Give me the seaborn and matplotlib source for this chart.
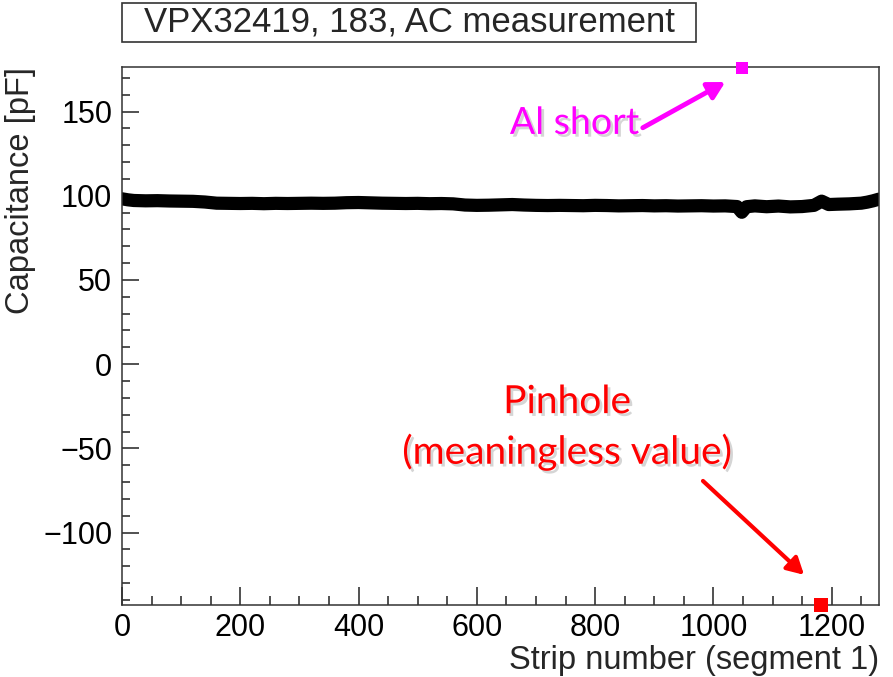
import matplotlib

matplotlib.use("Agg")
import matplotlib.patheffects as pe
import matplotlib.pyplot as plt
import pandas as pd
import seaborn as sns
from matplotlib.patches import Rectangle
from matplotlib.ticker import MultipleLocator

# Strip scan (coarse sampling of the dense band)
strip = [0, 10, 20, 40, 60, 80, 100, 120, 140, 160, 180, 200, 220, 240, 260,
         280, 300, 320, 340, 360, 380, 400, 420, 440, 460, 480, 500, 520, 540,
         560, 580, 600, 620, 640, 660, 680, 700, 720, 740, 760, 780, 800, 820,
         840, 860, 880, 900, 920, 940, 960, 980, 1000, 1020, 1040, 1048, 1056,
         1070, 1090, 1110, 1130, 1150, 1170, 1183, 1195, 1210, 1230, 1250,
         1260, 1270, 1280]
capacitance = [98.2, 97.6, 97.2, 97.0, 97.1, 96.9, 96.8, 96.7, 96.3, 95.6,
               95.5, 95.4, 95.5, 95.3, 95.5, 95.4, 95.5, 95.6, 95.5, 95.6,
               95.9, 96.0, 95.8, 95.6, 95.5, 95.4, 95.5, 95.3, 95.4, 95.2,
               94.5, 94.3, 94.4, 94.6, 94.8, 94.5, 94.3, 94.2, 94.3, 94.2,
               94.1, 94.3, 94.2, 94.0, 94.1, 94.2, 94.0, 94.1, 93.9, 94.0,
               94.1, 93.9, 94.0, 93.6, 90.2, 93.5, 94.0, 93.5, 93.9, 93.4,
               93.6, 94.3, 96.8, 94.8, 95.0, 95.2, 95.6, 96.2, 97.0, 98.0]

al_short_strip = [1048]
al_short_cap = [176.0]
pinhole_strip = [1182]
pinhole_cap = [-143.0]

x_major = [0, 200, 400, 600, 800, 1000, 1200]
y_major = [-100, -50, 0, 50, 100, 150]

sns.set_style("ticks")
plt.rcParams["font.family"] = ["Liberation Sans", "DejaVu Sans"]
plt.rcParams["axes.unicode_minus"] = True

fig = plt.figure(figsize=(8.93, 6.77), dpi=100)
ax = fig.add_axes([0.1366, 0.1064, 0.8477, 0.7947])

df = pd.DataFrame({"strip": strip, "cap": capacitance})
sns.lineplot(data=df, x="strip", y="cap", ax=ax, color="black", lw=9.5,
             solid_capstyle="round", solid_joinstyle="round")
sns.scatterplot(x=al_short_strip, y=al_short_cap, ax=ax, marker="s", s=75,
                color="#ff00ff", linewidth=0, clip_on=False, zorder=6)
sns.scatterplot(x=pinhole_strip, y=pinhole_cap, ax=ax, marker="s", s=88,
                color="#ff0000", linewidth=0, clip_on=False, zorder=6)

ax.set_xlim(0, 1280)
ax.set_ylim(-143, 176.5)
ax.set_xticks(x_major)
ax.set_yticks(y_major)
ax.xaxis.set_minor_locator(MultipleLocator(50))
ax.yaxis.set_minor_locator(MultipleLocator(10))
ax.tick_params(axis="both", which="both", direction="in", colors="#222222",
               labelcolor="black", labelsize=22, width=1.1)
ax.tick_params(axis="x", which="major", length=13, pad=6)
ax.tick_params(axis="x", which="minor", length=6.5)
ax.tick_params(axis="y", which="major", length=12, pad=7)
ax.tick_params(axis="y", which="minor", length=6)
for s in ax.spines.values():
    s.set_color("#333333")
    s.set_linewidth(1.1)

ax.set_xlabel("Strip number (segment 1)", fontsize=23.5, loc="right",
              labelpad=1)
ax.set_ylabel("Capacitance [pF]", fontsize=23.5, loc="top", labelpad=5)

shadow = [pe.withSimplePatchShadow(offset=(2, -2), shadow_rgbFace="#888888",
                                   alpha=0.35)]
ax.text(0.598, 0.896, "Al short", transform=ax.transAxes, color="#ff00ff",
        fontsize=27, family="Lato", ha="center", va="center",
        path_effects=shadow)
ax.text(0.588, 0.377, "Pinhole", transform=ax.transAxes, color="#ff0000",
        fontsize=28, family="Lato", ha="center", va="center",
        path_effects=shadow)
ax.text(0.588, 0.284, "(meaningless value)", transform=ax.transAxes,
        color="#ff0000", fontsize=28, family="Lato", ha="center",
        va="center", path_effects=shadow)

ax.annotate("", xy=(0.797, 0.972), xytext=(0.688, 0.887),
            xycoords="axes fraction", textcoords="axes fraction",
            arrowprops=dict(arrowstyle="-|>,head_length=1.0,head_width=0.55",
                            color="#ff00ff", lw=3.5, shrinkA=0, shrinkB=0))
ax.annotate("", xy=(0.901, 0.056), xytext=(0.7675, 0.2305),
            xycoords="axes fraction", textcoords="axes fraction",
            arrowprops=dict(arrowstyle="-|>,head_length=1.0,head_width=0.55",
                            color="#ff0000", lw=3, shrinkA=0, shrinkB=0))

# ROOT-style title pave
fig.patches.append(Rectangle((0.1366, 0.938), 0.6428, 0.0576,
                             transform=fig.transFigure, facecolor="white",
                             edgecolor="#333333", lw=1.2))
fig.text(0.458, 0.9675, "VPX32419, 183, AC measurement", fontsize=25,
         ha="center", va="center")

fig.savefig("out.png", dpi=100)
